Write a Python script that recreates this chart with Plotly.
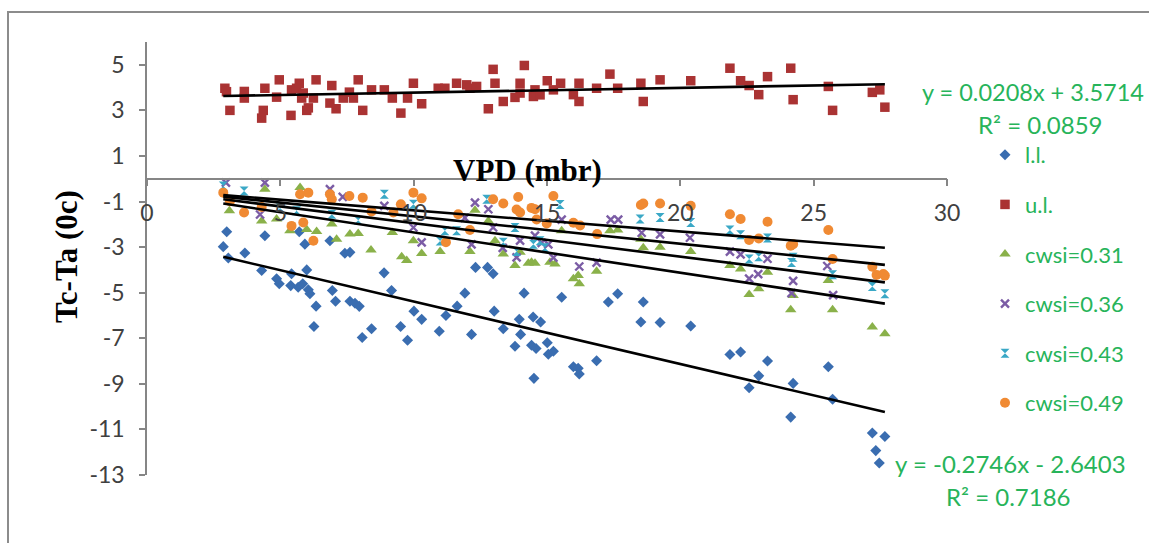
import plotly.graph_objects as go

# ---------------- data ----------------
series_names = ["l.l.", "u.l.", "cwsi=0.31", "cwsi=0.36", "cwsi=0.43", "cwsi=0.49"]

ll_x = [2.86, 2.99, 3.05, 3.67, 4.30, 4.42, 4.86, 4.96, 5.39, 5.42, 5.67, 5.71, 5.84, 5.92, 5.99, 6.05,
        6.11, 6.26, 6.34, 6.86, 6.95, 7.07, 7.42, 7.61, 7.61, 7.80, 7.96, 8.07, 8.42, 8.89, 9.17, 9.51,
        9.77, 10.01, 10.30, 10.96, 11.21, 11.63, 11.92, 12.17, 12.32, 12.77, 12.98, 13.02, 13.36, 13.80,
        13.96, 14.01, 14.14, 14.42, 14.48, 14.51, 14.59, 14.76, 15.01, 15.05, 15.24, 15.55, 15.99, 16.17,
        16.21, 16.86, 17.30, 17.65, 18.52, 18.61, 19.24, 20.39, 21.86, 22.26, 22.58, 22.94, 23.27, 24.14,
        24.23, 25.55, 25.71, 27.20, 27.33, 27.46, 27.67]
ll_y = [-2.98, -2.33, -3.48, -3.26, -4.03, -2.50, -4.39, -4.61, -4.69, -4.17, -4.76, -2.33, -4.61, -2.87,
        -4.00, -4.87, -5.05, -6.48, -5.59, -2.72, -4.90, -5.38, -3.27, -3.23, -5.38, -5.46, -5.60, -6.97,
        -6.58, -4.13, -4.90, -6.48, -7.09, -5.81, -6.17, -6.69, -6.00, -5.59, -5.02, -6.83, -3.89, -3.89,
        -4.17, -5.81, -6.58, -7.35, -6.17, -6.83, -5.02, -7.31, -6.07, -8.76, -7.45, -6.29, -7.20, -7.70,
        -7.57, -5.20, -8.25, -8.32, -8.57, -7.99, -5.41, -5.05, -6.29, -5.41, -6.31, -6.46, -7.71, -7.60,
        -9.17, -8.65, -8.00, -10.46, -8.98, -8.25, -9.68, -11.16, -11.93, -12.47, -11.31]

ul_x = [2.92, 2.98, 3.11, 3.65, 3.65, 4.30, 4.36, 4.42, 4.86, 4.96, 5.40, 5.42, 5.61, 5.71, 5.80, 5.86,
        5.99, 6.05, 6.24, 6.34, 6.86, 6.93, 7.09, 7.36, 7.59, 7.74, 7.92, 8.09, 8.42, 8.90, 9.20, 9.52,
        9.77, 9.99, 10.30, 10.92, 11.17, 11.61, 11.99, 12.11, 12.36, 12.80, 12.98, 13.05, 13.36, 13.80,
        13.99, 13.99, 14.15, 14.49, 14.55, 14.74, 15.01, 15.24, 15.51, 15.99, 16.20, 16.20, 16.86, 17.36,
        17.65, 18.52, 18.61, 19.24, 20.39, 21.86, 22.26, 22.58, 22.94, 23.27, 24.14, 24.23, 25.55, 25.71,
        27.20, 27.48, 27.67]
ul_y = [3.97, 3.82, 3.00, 3.83, 3.54, 2.66, 3.00, 3.97, 3.58, 4.34, 2.78, 3.90, 3.97, 4.19, 3.54, 3.76,
        3.00, 3.11, 3.54, 4.34, 3.32, 4.09, 3.07, 3.54, 3.80, 3.54, 4.34, 3.00, 3.90, 3.90, 3.54, 2.88,
        3.54, 4.19, 3.29, 3.97, 3.97, 4.19, 4.12, 3.97, 4.05, 3.07, 4.80, 4.19, 3.39, 3.57, 4.19, 3.76,
        4.97, 3.61, 3.90, 3.68, 4.30, 3.90, 4.19, 3.69, 4.19, 3.39, 3.97, 4.59, 3.97, 4.19, 3.39, 4.34,
        4.30, 4.85, 4.30, 4.09, 3.69, 4.48, 4.85, 3.47, 4.05, 3.00, 3.79, 3.90, 3.14]

c31_x = [3.09, 4.30, 4.42, 4.86, 5.36, 5.74, 5.99, 6.36, 6.93, 7.11, 7.61, 7.92, 8.40, 9.20, 9.55, 9.74,
         9.99, 10.30, 10.99, 12.11, 12.30, 12.80, 13.05, 13.36, 13.80, 13.99, 14.30, 14.42, 14.55, 15.11,
         15.30, 15.55, 15.99, 16.17, 16.21, 16.86, 17.36, 17.65, 18.52, 18.61, 19.24, 20.39, 21.86, 22.26,
         22.58, 22.94, 23.27, 24.14, 24.23, 25.55, 25.71, 27.20, 27.67]
c31_y = [-1.41, -1.85, -0.46, -1.77, -2.28, -0.39, -2.23, -2.31, -1.99, -2.65, -2.43, -2.40, -3.13, -2.36,
         -3.42, -3.59, -2.72, -3.28, -3.19, -3.19, -1.38, -1.85, -2.72, -3.30, -3.81, -3.23, -3.71, -3.67,
         -3.71, -3.67, -3.74, -2.28, -4.39, -4.25, -4.61, -4.06, -2.28, -2.25, -2.65, -3.03, -3.01, -3.19,
         -3.81, -3.96, -5.08, -4.83, -4.10, -5.75, -5.12, -4.47, -5.75, -6.51, -6.80]

c36_x = [2.96, 4.24, 4.42, 6.86, 7.34, 8.90, 9.99, 10.30, 11.92, 12.17, 12.30, 12.80, 12.98, 13.34, 13.86,
         13.99, 14.55, 14.80, 15.05, 15.24, 15.55, 16.21, 16.86, 17.39, 17.67, 18.55, 19.24, 20.36, 21.86,
         22.26, 22.58, 22.92, 23.27, 24.17, 24.23, 25.51, 25.73]
c36_y = [-0.17, -1.57, -0.17, -0.46, -0.80, -1.19, -2.14, -2.79, -1.72, -2.88, -1.05, -1.34, -2.14, -3.03,
         -3.45, -2.72, -2.50, -2.81, -2.88, -3.46, -1.79, -3.85, -3.68, -1.79, -1.79, -2.37, -2.44, -2.59,
         -3.20, -3.32, -4.38, -4.19, -3.51, -5.02, -4.48, -3.83, -5.11]

c43_x = [2.86, 3.64, 4.99, 5.61, 6.93, 7.92, 8.90, 9.99, 10.99, 11.17, 11.61, 12.74, 13.36, 13.80, 13.86,
         14.49, 14.74, 14.92, 15.49, 18.49, 19.24, 20.39, 21.86, 22.26, 22.58, 22.94, 23.27, 24.17, 24.23,
         25.71, 27.20, 27.67]
c43_y = [-0.32, -0.54, -1.28, -1.41, -1.56, -1.82, -0.68, -1.12, -2.73, -2.28, -2.28, -0.90, -2.79, -2.14,
         -3.19, -2.88, -2.72, -3.03, -1.13, -1.77, -1.70, -1.92, -2.25, -2.46, -3.52, -3.42, -2.60, -3.68,
         -3.45, -4.21, -4.73, -5.05]

c49_x = [2.86, 3.11, 3.64, 4.30, 5.42, 5.74, 5.86, 6.05, 6.24, 6.86, 6.93, 7.59, 8.09, 8.42, 9.24, 9.52,
         9.99, 10.30, 11.21, 11.67, 12.11, 12.98, 13.36, 13.86, 13.92, 13.99, 14.42, 14.55, 14.61, 14.99,
         15.24, 15.99, 16.24, 16.88, 18.52, 18.61, 19.24, 20.39, 21.86, 22.26, 22.58, 22.94, 23.27, 24.14,
         24.23, 25.55, 25.71, 27.20, 27.36, 27.61, 27.67]
c49_y = [-0.61, -0.99, -1.48, -1.24, -2.07, -0.68, -1.92, -0.61, -2.72, -0.68, -0.90, -0.76, -0.83, -1.44,
         -1.48, -1.12, -0.61, -0.86, -2.79, -1.56, -2.25, -0.90, -1.09, -1.35, -0.80, -1.48, -1.28, -1.34,
         -1.79, -1.96, -0.76, -1.93, -2.05, -2.43, -1.15, -1.09, -1.09, -1.19, -1.56, -1.77, -2.69, -2.62,
         -1.89, -2.94, -2.87, -2.25, -3.52, -3.86, -4.22, -4.18, -4.25]

# linear trendlines (slope, intercept) per series
trend_slopes = [-0.2746, 0.0208, -0.177, -0.147, -0.1205, -0.0931]
trend_intercepts = [-2.6403, 3.5714, -0.584, -0.479, -0.445, -0.454]
r2_values = [0.7186, 0.0859]

x_tickvals = [0, 5, 10, 15, 20, 25, 30]
x_ticktext = ["0", "5", "10", "15", "20", "25", "30"]
y_tickvals = [5, 3, 1, -1, -3, -5, -7, -9, -11, -13]
y_ticktext = ["5", "3", "1", "-1", "-3", "-5", "-7", "-9", "-11", "-13"]
x_range = [0, 30]
y_range = [-13, 6]

# ---------------- styling ----------------
colors = ["#3A6DB0", "#AA3333", "#8AB14A", "#7B5CA5", "#3AA8C6", "#F08A33"]
symbols = ["diamond", "square", "triangle-up", "x-thin", "hourglass", "circle"]
sizes = [8.5, 9.5, 10, 8, 9, 10]
green_txt = "#27B45A"
FONT = "Lato"

xs = [ll_x, ul_x, c31_x, c36_x, c43_x, c49_x]
ys = [ll_y, ul_y, c31_y, c36_y, c43_y, c49_y]

fig = go.Figure()
for i, name in enumerate(series_names):
    if symbols[i] == "x-thin":
        marker = dict(symbol="x-thin", size=sizes[i], color=colors[i],
                      line=dict(color=colors[i], width=2.4))
    else:
        marker = dict(symbol=symbols[i], size=sizes[i], color=colors[i], line=dict(width=0))
    fig.add_trace(go.Scatter(x=xs[i], y=ys[i], mode="markers", name=name, marker=marker,
                             legendgroup=name, showlegend=True))

all_x = [v for arr in xs for v in arr]
x_lo, x_hi = min(all_x), max(all_x)
for i, name in enumerate(series_names):
    m, b = trend_slopes[i], trend_intercepts[i]
    fig.add_trace(go.Scatter(x=[x_lo, x_hi], y=[m * x_lo + b, m * x_hi + b], mode="lines",
                             line=dict(color="black", width=2.6), showlegend=False,
                             hoverinfo="skip", legendgroup=name))

# plot area in pixels
L, R, T, B = 147, 947, 42, 475
W, H = 1149, 543


def px(x):
    return (x - L) / (R - L)


def py(y):
    return (B - y) / (B - T)


def eq_text(m, b):
    sign = "+" if b >= 0 else "-"
    return f"y = {m:.4f}x {sign} {abs(b):.4f}"


axis_col = "#868686"
zero_pos = (0 - y_range[0]) / (y_range[1] - y_range[0])

fig.update_layout(
    width=W, height=H,
    margin=dict(l=L, r=W - R, t=T, b=H - B, pad=0),
    paper_bgcolor="white", plot_bgcolor="white",
    font=dict(family=FONT, color="#404040"),
    xaxis=dict(range=x_range, tickvals=x_tickvals, ticktext=x_ticktext, showgrid=False, zeroline=False,
               showline=True, linecolor=axis_col, linewidth=1.5, ticks="outside", ticklen=7,
               tickcolor=axis_col, tickwidth=1.5, anchor="free", position=zero_pos,
               tickfont=dict(family=FONT, size=23, color="#404040"), ticklabelstandoff=7),
    yaxis=dict(range=y_range, tickvals=y_tickvals, ticktext=y_ticktext, showgrid=False, zeroline=False,
               showline=True, linecolor=axis_col, linewidth=1.5, ticks="outside", ticklen=6,
               tickcolor=axis_col, tickwidth=1.5,
               tickfont=dict(family=FONT, size=23, color="#404040"), ticklabelstandoff=10),
    showlegend=True,
    legend=dict(x=px(985), y=py(134), xanchor="left", yanchor="top", bgcolor="rgba(0,0,0,0)",
                font=dict(family=FONT, size=22, color=green_txt), tracegroupgap=18,
                traceorder="grouped"),
    shapes=[dict(type="rect", xref="paper", yref="paper", x0=px(8), y0=-0.5, x1=1.6, y1=py(12),
                 line=dict(color="#8C8C8C", width=2), fillcolor="rgba(0,0,0,0)", layer="below")],
)

ann = []
ann.append(dict(text="<b>VPD (mbr)</b>", x=px(527), y=py(170), xref="paper", yref="paper",
                xanchor="center", yanchor="middle", showarrow=False,
                font=dict(family="Liberation Serif", size=31, color="black")))
ann.append(dict(text="<b>Tc-Ta (0c)</b>", x=px(66), y=py(257), xref="paper", yref="paper",
                xanchor="center", yanchor="middle", showarrow=False, textangle=-90,
                font=dict(family="Liberation Serif", size=31, color="black")))
# trendline equations (u.l. top, l.l. bottom)
ann.append(dict(text=eq_text(trend_slopes[1], trend_intercepts[1]), x=px(1146), y=py(92), xref="paper",
                yref="paper", xanchor="right", yanchor="middle", showarrow=False,
                font=dict(family=FONT, size=23.5, color=green_txt)))
ann.append(dict(text=f"R² = {r2_values[1]:.4f}", x=px(1040), y=py(125), xref="paper", yref="paper",
                xanchor="center", yanchor="middle", showarrow=False,
                font=dict(family=FONT, size=24, color=green_txt)))
ann.append(dict(text=eq_text(trend_slopes[0], trend_intercepts[0]), x=px(893), y=py(463), xref="paper",
                yref="paper", xanchor="left", yanchor="middle", showarrow=False,
                font=dict(family=FONT, size=24, color=green_txt)))
ann.append(dict(text=f"R² = {r2_values[0]:.4f}", x=px(1008), y=py(496), xref="paper", yref="paper",
                xanchor="center", yanchor="middle", showarrow=False,
                font=dict(family=FONT, size=24, color=green_txt)))
fig.update_layout(annotations=ann)

fig.write_html("out.html", config={"displayModeBar": False},
               post_script="document.body.style.margin='0';document.body.style.overflow='hidden';")
